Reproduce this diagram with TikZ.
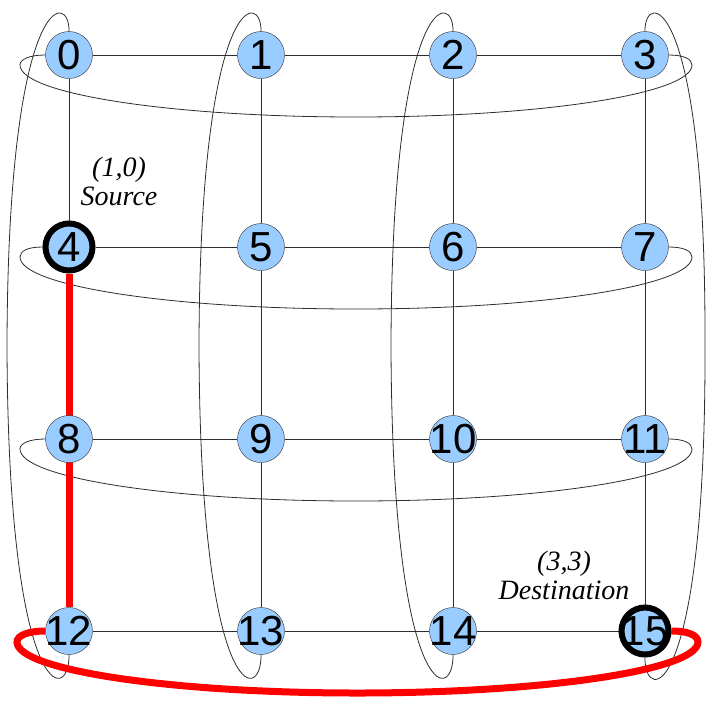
\documentclass[tikz,border=0pt]{standalone}
\usepackage{fontspec}
\setmainfont{Liberation Serif}
\newfontfamily\numfont{Liberation Sans}
\usetikzlibrary{backgrounds}
\definecolor{nodeblue}{RGB}{153,204,255}
\definecolor{linegray}{RGB}{45,45,45}

\begin{document}
\begin{tikzpicture}[x=1pt, y=-1pt,
  torusnode/.style={circle, draw=linegray, fill=nodeblue, minimum size=47pt, inner sep=0pt,
    font=\numfont\fontsize{42}{42}\selectfont},
  endnode/.style={torusnode, draw=black, line width=6pt},
  link/.style={draw=linegray, line width=0.8pt},
  route/.style={draw=red, line width=7pt},
  tag/.style={font=\itshape\fontsize{28}{29}\selectfont, align=center}]

\useasboundingbox (0,0) rectangle (706,702);

% ============ NODES: 4x4 torus ============
\foreach \r in {0,...,3} {
  \foreach \c in {0,...,3} {
    \pgfmathtruncatemacro{\id}{4*\r+\c}
    \tikzset{thisnode/.style={torusnode}}
    \ifnum\id=4 \tikzset{thisnode/.style={endnode}}\fi
    \ifnum\id=15 \tikzset{thisnode/.style={endnode}}\fi
    \node[thisnode] (n\id) at ({69+192*\c},{55+192*\r}) {\makebox[0pt]{\id}};
  }
}

% Source / destination labels
\node[tag] (srclabel) at (119,181) {(1,0)\\Source};
\node[tag] (dstlabel) at (564,575) {(3,3)\\Destination};

\begin{scope}[on background layer]
% ============ MESH LINKS ============
\foreach \r in {0,...,3} {
  \foreach \c in {0,1,2} {
    \pgfmathtruncatemacro{\a}{4*\r+\c}
    \pgfmathtruncatemacro{\b}{\a+1}
    \draw[link] (n\a) -- (n\b);
  }
}
\foreach \r in {0,1,2} {
  \foreach \c in {0,...,3} {
    \pgfmathtruncatemacro{\a}{4*\r+\c}
    \pgfmathtruncatemacro{\b}{\a+4}
    \draw[link] (n\a) -- (n\b);
  }
}

% ============ WRAP-AROUND: columns ============
\foreach \c in {0,1,2} {
  \pgfmathtruncatemacro{\b}{\c+12}
  \pgfmathsetmacro{\X}{69+192*\c}
  \draw[link] (n\c.north) .. controls ({\X+1},-10) and ({\X-61},-10) .. ({\X-62},345)
    .. controls ({\X-61},705) and ({\X+1},705) .. (n\b.south);
}
\draw[link] (n3.north) .. controls (644,-10) and (706,-10) .. (705,345)
  .. controls (706,705) and (644,705) .. (n15.south);

% ============ WRAP-AROUND: rows ============
\foreach \r in {0,1,2} {
  \pgfmathtruncatemacro{\a}{4*\r}
  \pgfmathtruncatemacro{\b}{\a+3}
  \pgfmathsetmacro{\Y}{55+192*\r}
  \draw[link] (n\a.west) .. controls +(-15,0) and (20,{\Y+4}) .. (20,{\Y+10})
    .. controls (20,{\Y+38.7}) and (170,{\Y+62}) .. (356,{\Y+62})
    .. controls (542,{\Y+62}) and (692,{\Y+38.7}) .. (692,{\Y+10})
    .. controls (692,{\Y+4}) and +(15,0) .. (n\b.east);
}

% ============ ROUTE: 4 -> 8 -> 12 -> 15 ============
\draw[route] (n4.south) -- (n12.north);
\draw[route] (n12.west) .. controls +(-16,0) and (17,635) .. (17,642)
  .. controls (17,670) and (170,693) .. (357,693)
  .. controls (545,693) and (698,670) .. (698,642)
  .. controls (698,635) and +(16,0) .. (n15.east);
\end{scope}

\end{tikzpicture}
\end{document}
